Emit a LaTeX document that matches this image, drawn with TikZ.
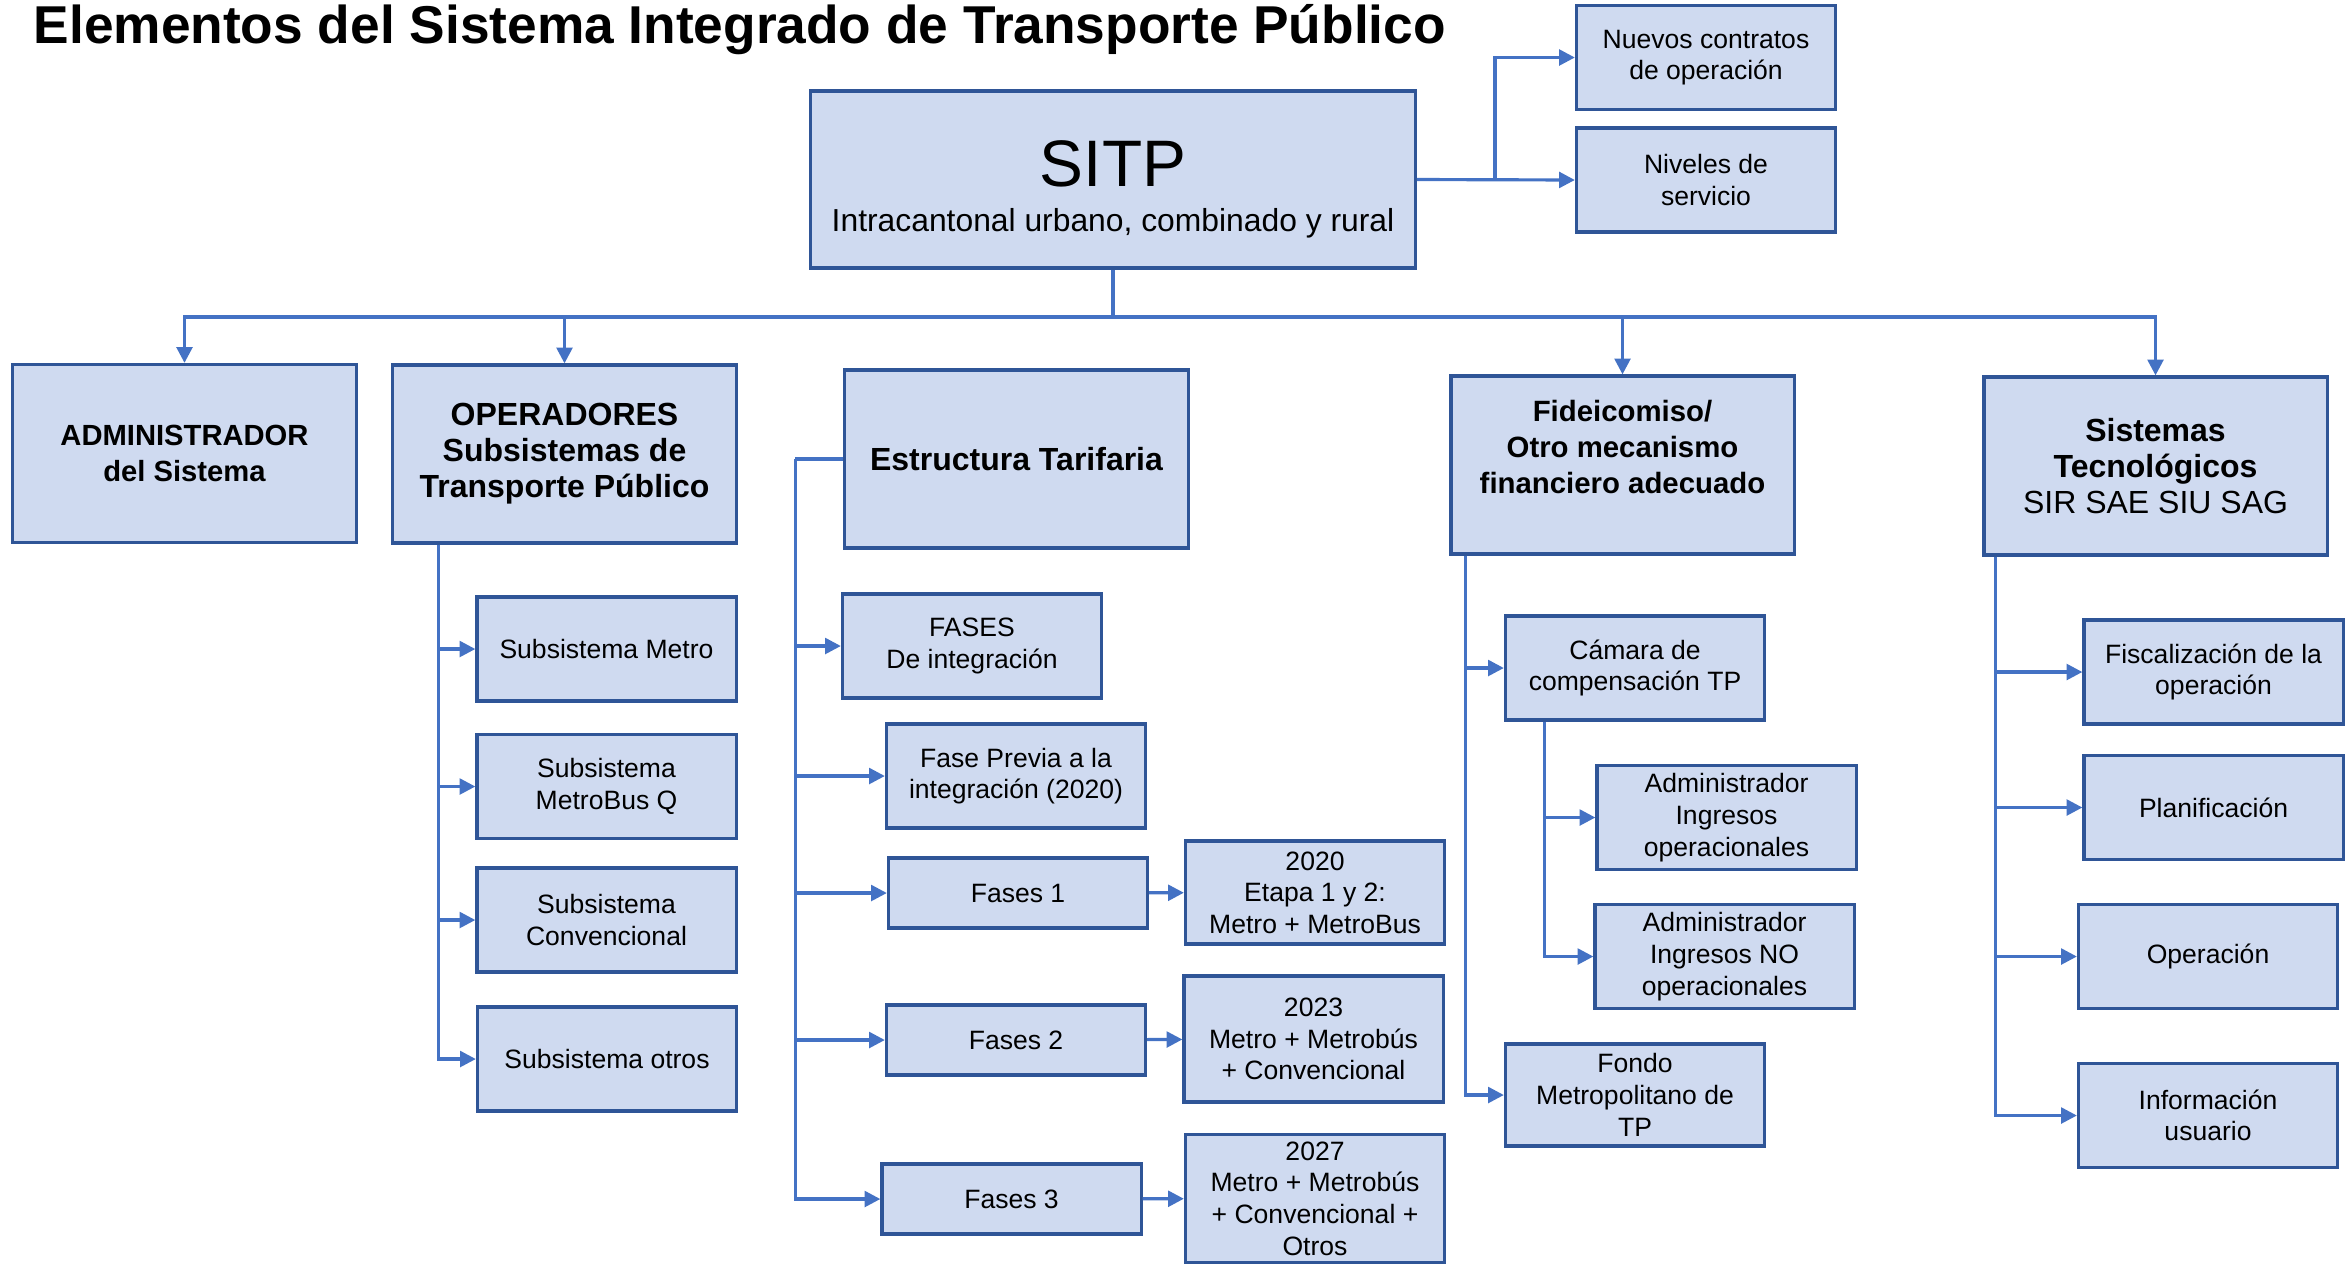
\documentclass[tikz,border=0pt]{standalone}
\usepackage{fontspec}
\setmainfont{Liberation Sans}
\usepackage{xcolor}
\usepackage{tikz}
\usetikzlibrary{arrows.meta, positioning, calc}

\definecolor{boxfill}{RGB}{207,218,240}
\definecolor{boxline}{RGB}{47,85,151}
\definecolor{linkblue}{RGB}{68,114,196}

\begin{document}
\begin{tikzpicture}[
    x=0.01cm, y=-0.01cm,
    box/.style={draw=boxline, line width=0.9pt, fill=boxfill, align=center, inner sep=2pt, font=\fontsize{7.55}{9.0}\selectfont},
    head/.style={box, minimum width=3.43cm, minimum height=1.78cm, font=\fontsize{9.1}{10.2}\selectfont\bfseries},
    leaf/.style={box, minimum width=2.59cm, minimum height=1.04cm},
    phase/.style={box, minimum width=2.59cm, minimum height=0.70cm},
    arr/.style={-{Triangle[length=4.5pt, width=4.5pt]}, draw=linkblue, line width=0.9pt},
    link/.style={draw=linkblue, line width=0.9pt},
]
\useasboundingbox (0,0) rectangle (2346,1263);

% Title
\node[anchor=base west, inner sep=0pt, font=\fontsize{15.15}{16}\selectfont\bfseries] (title) at (33,43) {Elementos del Sistema Integrado de Transporte Público};

% Top
\node[box, minimum width=6.04cm, minimum height=1.77cm, font=\fontsize{9.05}{12.8}\selectfont] (sitp) at (1113,179.5) {{\fontsize{18.7}{12.8}\selectfont\rule{0pt}{18.5pt}SITP}\\Intracantonal urbano, combinado y rural};
\node[leaf] (nuevos) at (1706,57.5) {Nuevos contratos\\de operación};
\node[leaf] (niveles) at (1706,180) {Niveles de\\servicio};

\coordinate (split) at (1495,179.5);
\draw[arr] (sitp.east) -- (niveles.west);
\draw[arr] (split) |- (nuevos.west);

% Second level
\node[head, font=\fontsize{8.3}{10.2}\selectfont\bfseries] (admin) at (184.5,453.5) {ADMINISTRADOR\\del Sistema};
\node[head] (oper) at (564.5,454) {OPERADORES\\Subsistemas de\\Transporte Público};
\node[head] (tarifa) at (1016.5,459) {Estructura Tarifaria};
\node[head, font=\fontsize{8.35}{10.2}\selectfont\bfseries] (fidei) at (1622.5,465) {Fideicomiso/\\Otro mecanismo\\financiero adecuado\\\mbox{}};
\node[head] (sistec) at (2155.5,466) {Sistemas\\Tecnológicos\\\mdseries SIR SAE SIU SAG};

\coordinate (bus) at (1113,317);
\draw[link] (sitp.south) -- (bus);
\draw[arr] (bus) -| (admin.north);
\draw[arr] (bus) -| (oper.north);
\draw[arr] (bus) -| (fidei.north);
\draw[arr] (bus) -| (sistec.north);

% Operadores
\node[leaf] (metro) at (606.5,649) {Subsistema Metro};
\node[leaf] (metrobus) at (606.5,786.5) {Subsistema\\MetroBus Q};
\node[leaf] (conv) at (606.5,920) {Subsistema\\Convencional};
\node[leaf] (otros) at (607,1059) {Subsistema otros};

\coordinate (operb) at ($(oper.south west)+(47,0)$);
\foreach \n in {metro, metrobus, conv, otros}
    \draw[arr] (operb) |- (\n.west);

% Estructura tarifaria
\node[leaf] (fases) at (972,646) {FASES\\De integración};
\node[leaf] (previa) at (1016,776) {Fase Previa a la\\integración (2020)};
\node[phase] (fase1) at (1018,893) {Fases 1};
\node[phase] (fase2) at (1016,1040) {Fases 2};
\node[phase] (fase3) at (1011.5,1199) {Fases 3};
\node[leaf, minimum height=1.03cm] (y2020) at (1315,892.5) {2020\\Etapa 1 y 2:\\Metro + MetroBus};
\node[leaf, minimum height=1.26cm] (y2023) at (1313.5,1039) {2023\\Metro + Metrobús\\+ Convencional};
\node[leaf, minimum height=1.25cm] (y2027) at (1315,1198.5) {2027\\Metro + Metrobús\\+ Convencional +\\Otros};

\coordinate (tarifab) at ($(tarifa.west)+(-48,0)$);
\draw[link] (tarifa.west) -- (tarifab);
\foreach \n in {fases, previa, fase1, fase2, fase3}
    \draw[arr] (tarifab) |- (\n.west);
\draw[arr] (fase1) -- (y2020);
\draw[arr] (fase2) -- (y2023);
\draw[arr] (fase3) -- (y2027);

% Fideicomiso
\node[leaf] (camara) at (1635,668) {Cámara de\\compensación TP};
\node[leaf] (ingop) at (1726.5,817.5) {Administrador\\Ingresos\\operacionales};
\node[leaf] (ingno) at (1724.5,956.5) {Administrador\\Ingresos NO\\operacionales};
\node[leaf, minimum height=1.02cm] (fondo) at (1635,1095) {Fondo\\Metropolitano de\\TP};

\coordinate (fideib) at ($(fidei.south west)+(16,0)$);
\draw[arr] (fideib) |- (camara.west);
\draw[arr] (fideib) |- (fondo.west);
\coordinate (camarab) at ($(camara.south west)+(41,0)$);
\draw[arr] (camarab) |- (ingop.west);
\draw[arr] (camarab) |- (ingno.west);

% Sistemas tecnologicos
\node[leaf] (fiscal) at (2213.5,672) {Fiscalización de la\\operación};
\node[leaf] (planif) at (2213.5,807.5) {Planificación};
\node[leaf] (operac) at (2208,956.5) {Operación};
\node[leaf] (info) at (2208,1115.5) {Información\\usuario};

\coordinate (sistecb) at ($(sistec.south west)+(13,0)$);
\foreach \n in {fiscal, planif, operac, info}
    \draw[arr] (sistecb) |- (\n.west);

\end{tikzpicture}
\end{document}
